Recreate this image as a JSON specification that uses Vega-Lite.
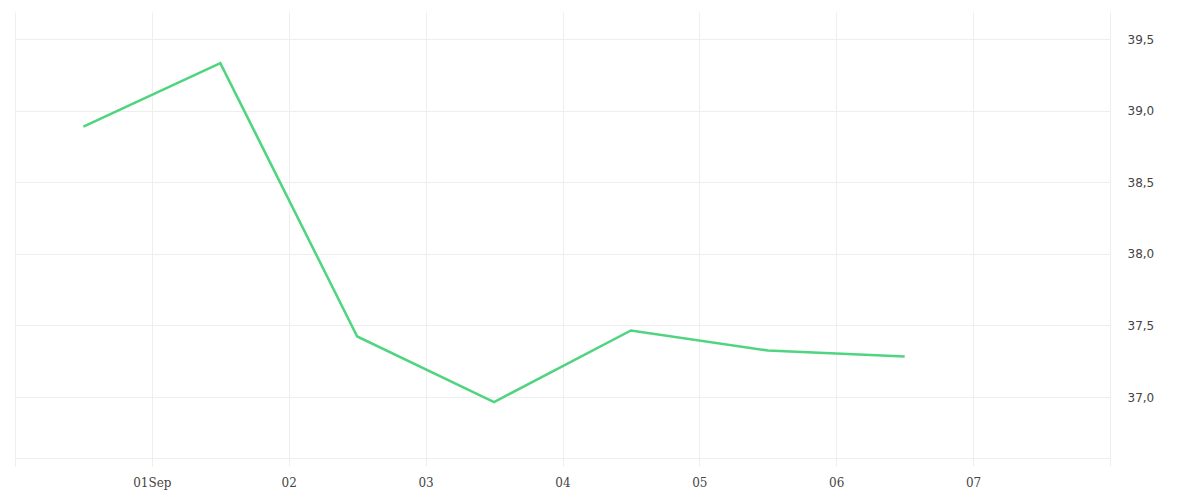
{
  "$schema": "https://vega.github.io/schema/vega-lite/v6.json",
  "width": 1095,
  "height": 446,
  "autosize": {"type": "none"},
  "padding": {"left": 15, "top": 12, "right": 90, "bottom": 42},
  "background": "white",
  "config": {"view": {"stroke": null}},
  "data": {
    "values": [
      {"date": "2023-08-31T12:00:00Z", "value": 38.888},
      {"date": "2023-09-01T12:00:00Z", "value": 39.332},
      {"date": "2023-09-02T12:00:00Z", "value": 37.423},
      {"date": "2023-09-03T12:00:00Z", "value": 36.965},
      {"date": "2023-09-04T12:00:00Z", "value": 37.465},
      {"date": "2023-09-05T12:00:00Z", "value": 37.325},
      {"date": "2023-09-06T12:00:00Z", "value": 37.283}
    ]
  },
  "mark": {"type": "line", "color": "#4fd47f", "strokeWidth": 2.5},
  "encoding": {
    "x": {
      "field": "date",
      "type": "temporal",
      "scale": {"type": "utc", "domain": ["2023-08-31T00:00:00Z", "2023-09-08T00:00:00Z"], "nice": false},
      "axis": {
        "title": null,
        "values": ["2023-08-31T00:00:00Z", "2023-09-01T00:00:00Z", "2023-09-02T00:00:00Z", "2023-09-03T00:00:00Z", "2023-09-04T00:00:00Z", "2023-09-05T00:00:00Z", "2023-09-06T00:00:00Z", "2023-09-07T00:00:00Z", "2023-09-08T00:00:00Z"],
        "labelExpr": "utcdate(datum.value) == 31 || utcdate(datum.value) == 8 ? '' : (utcdate(datum.value) == 1 ? utcFormat(datum.value, '%d%b') : utcFormat(datum.value, '%d'))",
        "labelFont": "DejaVu Serif",
        "labelFontSize": 12,
        "labelColor": "#444",
        "labelPadding": 11,
        "labelFlush": false,
        "labelOverlap": false,
        "grid": true,
        "gridColor": "#eeeeee",
        "domain": true,
        "domainColor": "#eeeeee",
        "ticks": true,
        "tickColor": "#eeeeee",
        "tickSize": 8
      }
    },
    "y": {
      "field": "value",
      "type": "quantitative",
      "scale": {"domain": [36.574, 39.689], "nice": false, "zero": false},
      "axis": {
        "title": null,
        "orient": "right",
        "values": [37.0, 37.5, 38.0, 38.5, 39.0, 39.5],
        "labelExpr": "replace(format(datum.value, '.1f'), '.', ',')",
        "labelFont": "DejaVu Sans",
        "labelFontSize": 12,
        "labelColor": "#444",
        "labelPadding": 17,
        "grid": true,
        "gridColor": "#eeeeee",
        "domain": false,
        "ticks": false
      }
    }
  }
}
